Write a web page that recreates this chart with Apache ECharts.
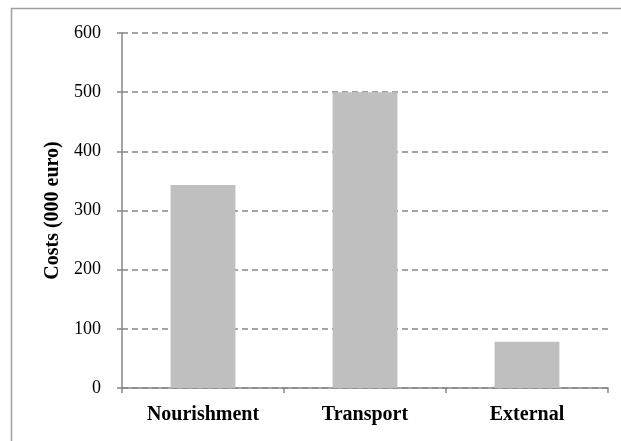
<!DOCTYPE html>
<html>
<head>
<meta charset="utf-8">
<script src="https://cdn.jsdelivr.net/npm/echarts@6/dist/echarts.min.js"></script>
<style>
  html, body { margin: 0; padding: 0; background: #fff; }
  #chart { width: 621px; height: 441px; }
</style>
</head>
<body>
<div id="chart"></div>
<script>
// Cost breakdown, thousands of euro
const categories = ['Nourishment', 'Transport', 'External'];
const costs = [343, 500, 78];
const yTicks = { min: 0, max: 600, interval: 100 };

const serif = '"Liberation Serif", "Times New Roman", serif';
const axisGrey = '#868686';

const chart = echarts.init(document.getElementById('chart'), null, { renderer: 'canvas' });
chart.setOption({
  animation: false,
  backgroundColor: '#ffffff',
  graphic: [{
    type: 'rect',
    shape: { x: 11.5, y: 8.5, width: 700, height: 600 },
    style: { fill: 'none', stroke: '#a0a0a0', lineWidth: 1.5 },
    silent: true
  }],
  grid: { left: 122, right: 13, top: 33, bottom: 53 },
  xAxis: {
    type: 'category',
    data: categories,
    axisLine: { lineStyle: { color: axisGrey, width: 1.5 } },
    axisTick: { show: true, length: 5, alignWithLabel: false, lineStyle: { color: axisGrey, width: 1.5 } },
    axisLabel: { color: '#000', fontFamily: serif, fontWeight: 'bold', fontSize: 20, margin: 17 }
  },
  yAxis: {
    type: 'value',
    min: yTicks.min,
    max: yTicks.max,
    interval: yTicks.interval,
    name: 'Costs (000 euro)',
    nameLocation: 'middle',
    nameGap: 58,
    nameTextStyle: { color: '#000', fontFamily: serif, fontWeight: 'bold', fontSize: 20 },
    axisLine: { show: true, lineStyle: { color: axisGrey, width: 1.5 } },
    axisTick: { show: true, length: 5, lineStyle: { color: axisGrey, width: 1.5 } },
    axisLabel: { color: '#000', fontFamily: serif, fontSize: 18, margin: 21 },
    splitLine: { show: true, lineStyle: { color: axisGrey, width: 1.5, type: [6, 4] } }
  },
  series: [{
    type: 'bar',
    data: costs,
    barWidth: '40%',
    itemStyle: { color: '#bfbfbf' }
  }]
});
</script>
</body>
</html>
